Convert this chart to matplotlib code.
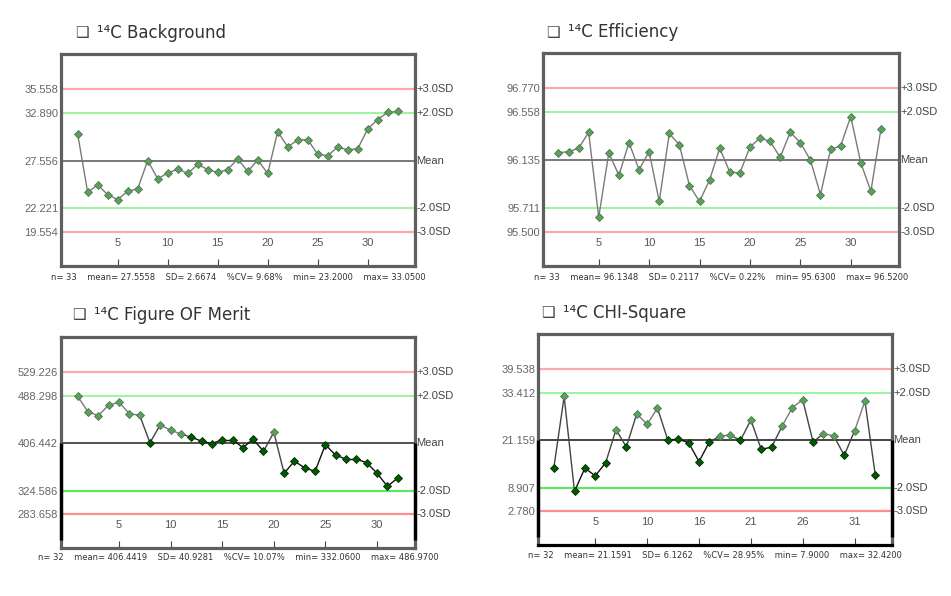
import numpy as np
import matplotlib
matplotlib.use("Agg")
import matplotlib.pyplot as plt
from matplotlib.collections import LineCollection

plt.rcParams['font.family'] = ['DejaVu Sans']

# ---------------- data ----------------
titles = ["Background", "Efficiency", "Figure OF Merit", "CHI-Square"]

bg_values = [30.50, 23.99, 24.87, 23.73, 23.20, 24.14, 24.40, 27.56, 25.53, 26.16,
             26.60, 26.12, 27.12, 26.56, 26.23, 26.56, 27.74, 26.34, 27.63, 26.12,
             30.79, 29.10, 29.84, 29.91, 28.25, 28.11, 29.06, 28.77, 28.88, 31.09,
             32.15, 32.96, 33.05]
eff_values = [96.20, 96.21, 96.24, 96.38, 95.63, 96.20, 96.00, 96.29, 96.05, 96.21,
              95.77, 96.37, 96.27, 95.91, 95.77, 95.96, 96.24, 96.03, 96.02, 96.25,
              96.33, 96.30, 96.16, 96.38, 96.29, 96.135, 95.83, 96.23, 96.26, 96.52,
              96.11, 95.86, 96.41]
fom_values = [486.97, 460.1, 453.9, 471.9, 477.0, 457.2, 454.4, 407.0, 438.0, 428.5,
              422.2, 416.6, 409.8, 405.3, 412.6, 412.6, 398.5, 413.2, 392.3, 425.1,
              354.5, 375.4, 363.5, 357.9, 403.6, 385.5, 378.8, 378.8, 372.6, 354.5,
              332.06, 346.0]
chi_values = [13.86, 32.42, 7.90, 13.94, 11.93, 15.29, 23.85, 19.40, 27.96, 25.27,
              29.38, 21.16, 21.41, 20.49, 15.62, 20.66, 22.16, 22.50, 21.07, 26.36,
              18.81, 19.31, 24.68, 29.55, 31.57, 20.66, 22.84, 22.25, 17.22, 23.51,
              31.23, 12.10]

# highlighted (light) points: 1 = light green, 0 = dark green
bg_light = [1] * 33
eff_light = [1] * 33
fom_light = [1, 1, 1, 1, 1, 1, 1, 0, 1, 1, 1, 0, 0, 0, 0, 0, 0, 0, 0, 1,
             0, 0, 0, 0, 0, 0, 0, 0, 0, 0, 0, 0]
chi_light = [0, 1, 0, 0, 0, 0, 1, 0, 1, 1, 1, 0, 0, 0, 0, 0, 1, 1, 0, 1,
             0, 0, 1, 1, 1, 0, 1, 1, 0, 1, 1, 0]

# control levels: +3SD, +2SD, Mean, -2SD, -3SD
bg_levels = [35.558, 32.890, 27.556, 22.221, 19.554]
eff_levels = [96.770, 96.558, 96.135, 95.711, 95.500]
fom_levels = [529.226, 488.298, 406.442, 324.586, 283.658]
chi_levels = [39.538, 33.412, 21.159, 8.907, 2.780]
level_names = ["+3.0SD", "+2.0SD", "Mean", "-2.0SD", "-3.0SD"]

bg_stats = "n= 33    mean= 27.5558    SD= 2.6674    %CV= 9.68%    min= 23.2000    max= 33.0500"
eff_stats = "n= 33    mean= 96.1348    SD= 0.2117    %CV= 0.22%    min= 95.6300    max= 96.5200"
fom_stats = "n= 32    mean= 406.4419    SD= 40.9281    %CV= 10.07%    min= 332.0600    max= 486.9700"
chi_stats = "n= 32    mean= 21.1591    SD= 6.1262    %CV= 28.95%    min= 7.9000    max= 32.4200"

tick_pos = [5, 10, 15, 20, 25, 30]
bg_ticklabels = ["5", "10", "15", "20", "25", "30"]
eff_ticklabels = ["5", "10", "15", "20", "25", "30"]
fom_ticklabels = ["5", "10", "15", "20", "25", "30"]
chi_ticklabels = ["5", "10", "16", "21", "26", "31"]

# ---------------- layout ----------------
W, H = 951, 596
fig = plt.figure(figsize=(W / 100, H / 100), dpi=100)


def px_axes(l, t, r, b):
    return fig.add_axes([l / W, 1 - b / H, (r - l) / W, (b - t) / H])


panels = [
    dict(box=(61, 54, 415, 266), vals=bg_values, light=bg_light, lev=bg_levels,
         stats=bg_stats, tl=bg_ticklabels, xl=(-0.67, 34.73), title_xy=(75, 33),
         stats_y=277, mean_col='#555555', dark_frame=0),
    dict(box=(543, 53, 899, 266), vals=eff_values, light=eff_light, lev=eff_levels,
         stats=eff_stats, tl=eff_ticklabels, xl=(-0.53, 34.79), title_xy=(546, 32),
         stats_y=277, mean_col='#555555', dark_frame=0),
    dict(box=(61, 337, 415, 548), vals=fom_values, light=fom_light, lev=fom_levels,
         stats=fom_stats, tl=fom_ticklabels, xl=(-0.62, 33.68), title_xy=(72, 315),
         stats_y=558, mean_col='#222222', dark_frame=1),
    dict(box=(538, 334, 892, 545), vals=chi_values, light=chi_light, lev=chi_levels,
         stats=chi_stats, tl=chi_ticklabels, xl=(-0.52, 33.61), title_xy=(541, 313),
         stats_y=556, mean_col='#111111', dark_frame=2),
]

LIGHT = '#5e9e5e'
LIGHT_EDGE = '#4a7a4a'
DARK = '#005a00'
DARK_EDGE = '#002800'

for p, title in zip(panels, titles):
    l, t, r, b = p['box']
    ax = px_axes(l, t, r, b)
    vals = np.array(p['vals'], dtype=float)
    light = np.array(p['light'], dtype=bool)
    lev = p['lev']
    x = np.arange(1, len(vals) + 1)
    sd = (lev[0] - lev[4]) / 6.0
    mean = lev[2]
    ax.set_xlim(*p['xl'])
    ax.set_ylim(mean - 4.42 * sd, mean + 4.47 * sd)

    # control lines
    ax.axhline(lev[0], color='#ffa8a8', lw=1.6, zorder=1)
    ax.axhline(lev[4], color='#ff8e8e' if p['dark_frame'] else '#ffa8a8', lw=1.6, zorder=1)
    ax.axhline(lev[1], color='#8cf28c', lw=1.2, zorder=1)
    ax.axhline(lev[3], color='#5fe65f' if p['dark_frame'] else '#8cf28c',
               lw=1.6 if p['dark_frame'] else 1.2, zorder=1)
    ax.axhline(lev[2], color=p['mean_col'], lw=1.1, zorder=1)

    # connecting line, coloured per segment
    pts = np.column_stack([x, vals])
    segs = np.stack([pts[:-1], pts[1:]], axis=1)
    seg_cols = []
    for i in range(len(vals) - 1):
        a, c = light[i], light[i + 1]
        if a and c:
            seg_cols.append('#7a7a7a')
        elif (not a) and (not c):
            seg_cols.append('#111111')
        else:
            seg_cols.append('#444444')
    ax.add_collection(LineCollection(segs, colors=seg_cols, linewidths=1.0, zorder=2))

    ax.plot(x[light], vals[light], linestyle='none', marker='D', markersize=4.2,
            markerfacecolor=LIGHT, markeredgecolor=LIGHT_EDGE, markeredgewidth=0.6, zorder=3)
    ax.plot(x[~light], vals[~light], linestyle='none', marker='D', markersize=4.2,
            markerfacecolor=DARK, markeredgecolor=DARK_EDGE, markeredgewidth=0.6, zorder=3)

    # left labels (level values)
    ax.set_yticks(lev)
    ax.set_yticklabels([f"{v:.3f}" for v in lev])
    ax.tick_params(axis='y', length=0, pad=2, labelcolor='#666666')
    for lab in ax.get_yticklabels():
        lab.set_fontfamily(['Liberation Sans', 'DejaVu Sans'])
        lab.set_fontsize(8)

    # right labels
    for v, name in zip(lev, level_names):
        ax.text(1.004, v, name, transform=ax.get_yaxis_transform(), ha='left',
                va='center', fontsize=8, color='#444444',
                family=['Liberation Sans', 'DejaVu Sans'])

    # x ticks inside the frame
    ax.set_xticks(tick_pos)
    ax.set_xticklabels(p['tl'])
    ax.tick_params(axis='x', direction='in', length=5, width=0.8, color='#444444',
                   pad=-20, labelsize=8, labelcolor='#555555')
    for lab in ax.get_xticklabels():
        lab.set_fontfamily(['Liberation Sans', 'DejaVu Sans'])

    for s in ax.spines.values():
        s.set_color('#5f5f5f')
        s.set_linewidth(2.3)
    if p['dark_frame']:
        # lower half of the frame rendered in black in the reference
        ymean = (mean - ax.get_ylim()[0]) / (ax.get_ylim()[1] - ax.get_ylim()[0])
        for xs in (0.0, 1.0):
            ax.plot([xs, xs], [0.04, ymean], transform=ax.transAxes,
                    color='#000000', lw=2.4, clip_on=False, zorder=5,
                    solid_capstyle='butt')
        if p['dark_frame'] == 2:
            ax.spines['bottom'].set_color('#000000')

    # title
    tx, ty = p['title_xy']
    fig.text(tx / W, 1 - ty / H, "❑", fontsize=11, color='#444444',
             va='center', ha='left', family=['DejaVu Sans'])
    fig.text((tx + 22) / W, 1 - ty / H, "¹⁴C " + title, fontsize=12,
             color='#333333', va='center', ha='left', family=['DejaVu Sans'])

    # stats line
    fig.text(((l + r) / 2) / W, 1 - p['stats_y'] / H, p['stats'], fontsize=6,
             color='#333333', ha='center', va='center', family=['DejaVu Sans'])

fig.savefig("out.png", dpi=100, facecolor='white')
